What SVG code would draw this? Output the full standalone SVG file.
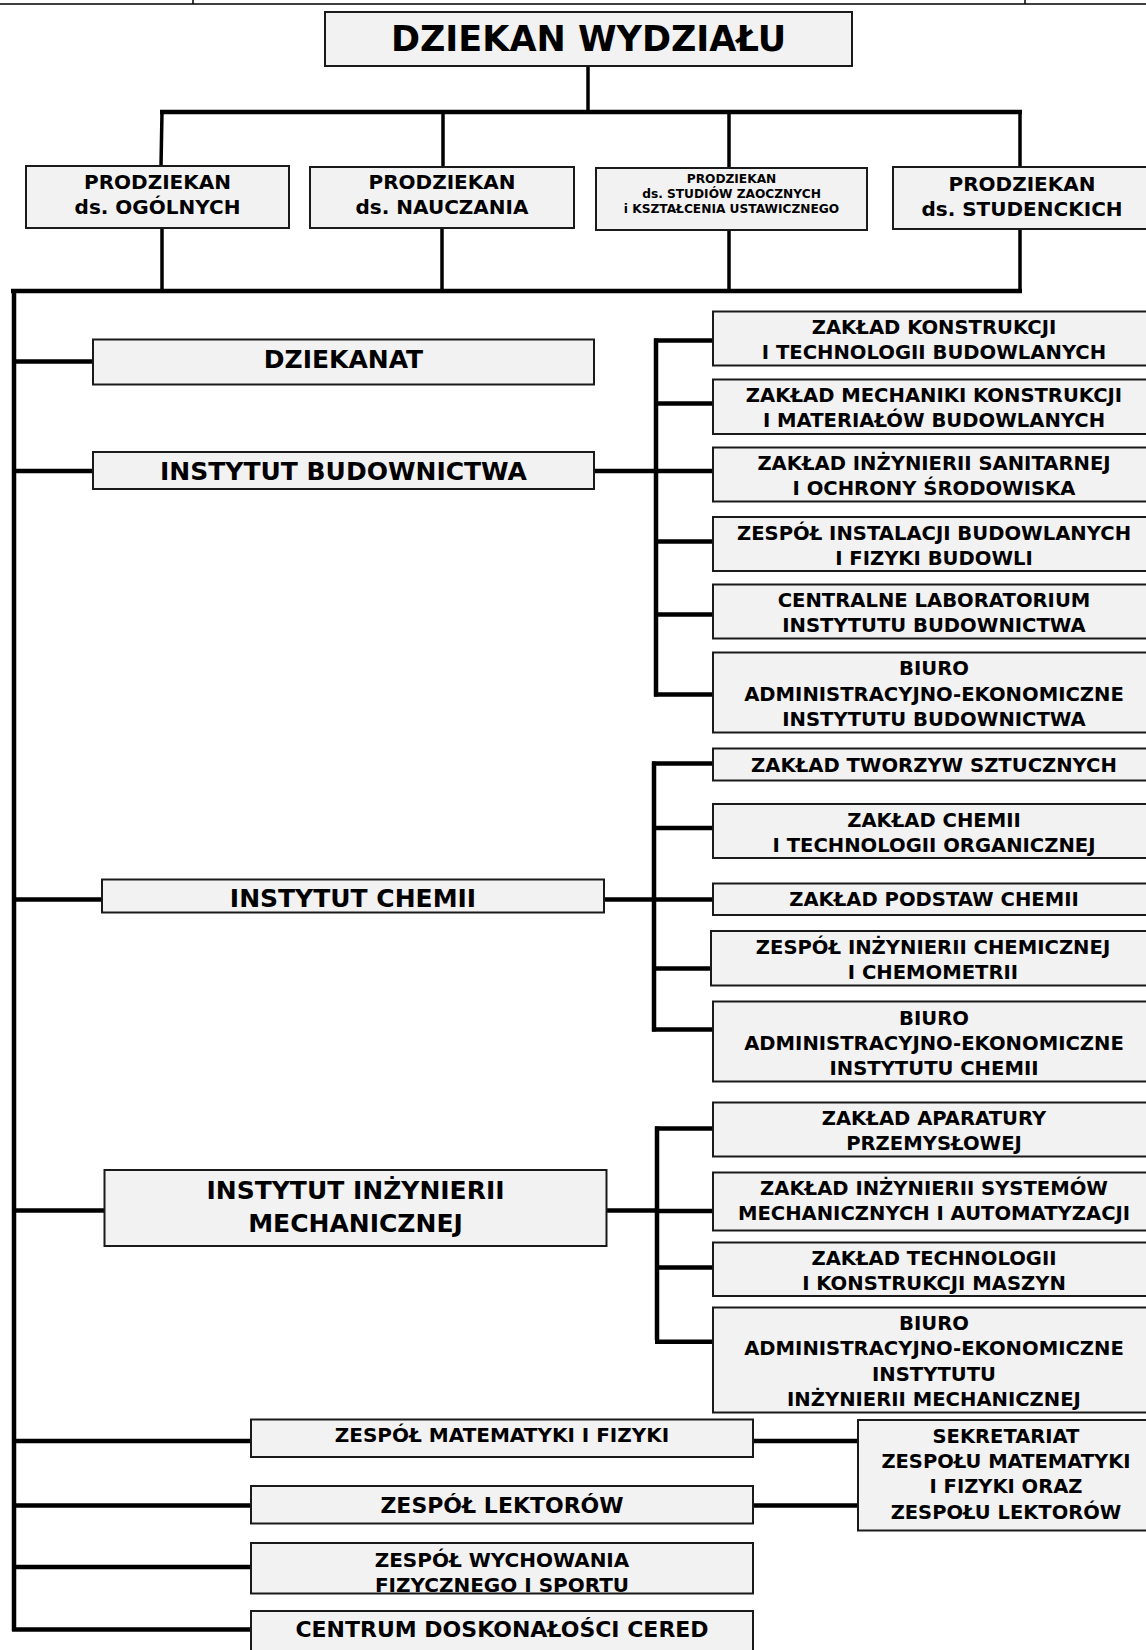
<svg xmlns="http://www.w3.org/2000/svg" width="1146" height="1650" viewBox="0 0 1146 1650">
<style>
.box{fill:#f2f2f2;stroke:#1a1a1a;stroke-width:2}
.t{font-family:"DejaVu Sans","Verdana","Liberation Sans",sans-serif;font-weight:bold;text-anchor:middle;fill:#000}
.f34{font-size:35px}
.f24{font-size:25px}
.f22{font-size:22px}
.f20{font-size:20px}
.f19{font-size:20px}
.f18{font-size:19.6px}
.fs{font-size:19.5px}
.f12{font-size:12.2px}
.ln{stroke:#000;stroke-width:4.5;fill:none}
.lm{stroke:#000;stroke-width:3.5;fill:none}
.bd{stroke:#000;stroke-width:1.5;fill:none}
</style>
<g id="page-border">
<line class="bd" x1="0" y1="4" x2="1146" y2="4"/>
<line class="bd" x1="193" y1="0" x2="193" y2="4" stroke-width="1.2"/>
<line class="bd" x1="1025" y1="0" x2="1025" y2="4" stroke-width="1.2"/>
</g>
<g id="connectors">
<line class="lm" x1="588" y1="66" x2="588" y2="112"/>
<line class="ln" x1="160" y1="112" x2="1022" y2="112"/>
<line class="lm" x1="162" y1="112" x2="161" y2="166"/>
<line class="lm" x1="443" y1="112" x2="443" y2="167"/>
<line class="lm" x1="729" y1="112" x2="729" y2="168"/>
<line class="lm" x1="1020" y1="112" x2="1020" y2="167"/>
<line class="lm" x1="162" y1="228" x2="162" y2="291"/>
<line class="lm" x1="442" y1="228" x2="442" y2="291"/>
<line class="lm" x1="729" y1="230" x2="729" y2="291"/>
<line class="lm" x1="1020" y1="229" x2="1020" y2="291"/>
<line class="ln" x1="11" y1="291" x2="1022" y2="291"/>
<line class="ln" x1="14" y1="289" x2="14" y2="1631"/>
<line class="ln" x1="12" y1="361.5" x2="93" y2="361.5"/>
<line class="ln" x1="12" y1="471" x2="93" y2="471"/>
<line class="ln" x1="594" y1="471" x2="656" y2="471"/>
<line class="ln" x1="656" y1="338.5" x2="656" y2="696.5"/>
<line class="ln" x1="654" y1="340.5" x2="713" y2="340.5"/>
<line class="ln" x1="656" y1="403.5" x2="713" y2="403.5"/>
<line class="ln" x1="656" y1="471" x2="713" y2="471"/>
<line class="ln" x1="656" y1="541.5" x2="713" y2="541.5"/>
<line class="ln" x1="656" y1="614.5" x2="713" y2="614.5"/>
<line class="ln" x1="654" y1="694.5" x2="713" y2="694.5"/>
<line class="ln" x1="12" y1="899.5" x2="102" y2="899.5"/>
<line class="ln" x1="604" y1="899.5" x2="654" y2="899.5"/>
<line class="ln" x1="654" y1="761.5" x2="654" y2="1031.5"/>
<line class="ln" x1="652" y1="763.5" x2="713" y2="763.5"/>
<line class="ln" x1="654" y1="828" x2="713" y2="828"/>
<line class="ln" x1="654" y1="899.5" x2="713" y2="899.5"/>
<line class="ln" x1="654" y1="968.5" x2="711" y2="968.5"/>
<line class="ln" x1="652" y1="1029.5" x2="713" y2="1029.5"/>
<line class="ln" x1="12" y1="1210.5" x2="104.5" y2="1210.5"/>
<line class="ln" x1="607" y1="1210.5" x2="657" y2="1210.5"/>
<line class="ln" x1="657" y1="1126.5" x2="657" y2="1340"/>
<line class="ln" x1="655" y1="1128.5" x2="713" y2="1128.5"/>
<line class="ln" x1="657" y1="1211" x2="713" y2="1211"/>
<line class="ln" x1="657" y1="1267.5" x2="713" y2="1267.5"/>
<line class="ln" x1="655" y1="1341.7" x2="713" y2="1341.7" stroke="#1b4a2c"/>
<line class="ln" x1="12" y1="1441" x2="251" y2="1441"/>
<line class="ln" x1="753" y1="1441" x2="858" y2="1441"/>
<line class="ln" x1="12" y1="1505.5" x2="251" y2="1505.5"/>
<line class="ln" x1="753" y1="1505.5" x2="858" y2="1505.5"/>
<line class="ln" x1="12" y1="1567" x2="251" y2="1567"/>
<line class="ln" x1="12" y1="1629.5" x2="251" y2="1629.5"/>
</g>
<g id="dziekan">
<rect class="box" x="325" y="12" width="527" height="54"/>
<text class="t f34" x="588.5" y="50.5">DZIEKAN WYDZIAŁU</text>
</g>
<g id="prodziekan-ogolnych">
<rect class="box" x="26" y="166" width="263" height="62"/>
<text class="t f19" x="157.5" y="188.5">PRODZIEKAN</text>
<text class="t f19" x="157.5" y="213.5">ds. OGÓLNYCH</text>
</g>
<g id="prodziekan-nauczania">
<rect class="box" x="310" y="167" width="264" height="61"/>
<text class="t f19" x="442" y="189">PRODZIEKAN</text>
<text class="t f19" x="442" y="214">ds. NAUCZANIA</text>
</g>
<g id="prodziekan-zaocznych">
<rect class="box" x="596" y="168" width="271" height="62"/>
<text class="t f12" x="731.5" y="183.3">PRODZIEKAN</text>
<text class="t f12" x="731.5" y="198">ds. STUDIÓW ZAOCZNYCH</text>
<text class="t f12" x="731.5" y="213">i KSZTAŁCENIA USTAWICZNEGO</text>
</g>
<g id="prodziekan-studenckich">
<rect class="box" x="893" y="167" width="262" height="62"/>
<text class="t f19" x="1022" y="191">PRODZIEKAN</text>
<text class="t f19" x="1022" y="216">ds. STUDENCKICH</text>
</g>
<g id="dziekanat">
<rect class="box" x="93" y="339.5" width="501" height="45"/>
<text class="t f24" x="343.5" y="367.5">DZIEKANAT</text>
</g>
<g id="instytut-budownictwa">
<rect class="box" x="93" y="452" width="501" height="37"/>
<text class="t f24" x="343.5" y="479.5">INSTYTUT BUDOWNICTWA</text>
</g>
<g id="zaklad-konstrukcji">
<rect class="box" x="713" y="311.5" width="442" height="54"/>
<text class="t f18" x="934" y="333.5">ZAKŁAD KONSTRUKCJI</text>
<text class="t f18" x="934" y="358.8">I TECHNOLOGII BUDOWLANYCH</text>
</g>
<g id="zaklad-mechaniki">
<rect class="box" x="713" y="379.5" width="442" height="54.5"/>
<text class="t f18" x="934" y="401.5">ZAKŁAD MECHANIKI KONSTRUKCJI</text>
<text class="t f18" x="934" y="426.7">I MATERIAŁÓW BUDOWLANYCH</text>
</g>
<g id="zaklad-sanitarnej">
<rect class="box" x="713" y="447.5" width="442" height="54"/>
<text class="t f18" x="934" y="469.5">ZAKŁAD INŻYNIERII SANITARNEJ</text>
<text class="t f18" x="934" y="494.8">I OCHRONY ŚRODOWISKA</text>
</g>
<g id="zespol-instalacji">
<rect class="box" x="713" y="517" width="442" height="54"/>
<text class="t f18" x="934" y="539.5">ZESPÓŁ INSTALACJI BUDOWLANYCH</text>
<text class="t f18" x="934" y="564.8">I FIZYKI BUDOWLI</text>
</g>
<g id="centralne-laboratorium">
<rect class="box" x="713" y="584.5" width="442" height="54"/>
<text class="t f18" x="934" y="606.5">CENTRALNE LABORATORIUM</text>
<text class="t f18" x="934" y="631.8">INSTYTUTU BUDOWNICTWA</text>
</g>
<g id="biuro-budownictwa">
<rect class="box" x="713" y="652.5" width="442" height="80"/>
<text class="t f18" x="934" y="675">BIURO</text>
<text class="t f18" x="934" y="700.5">ADMINISTRACYJNO-EKONOMICZNE</text>
<text class="t f18" x="934" y="726">INSTYTUTU BUDOWNICTWA</text>
</g>
<g id="instytut-chemii">
<rect class="box" x="102" y="879.5" width="502" height="33"/>
<text class="t f24" x="353" y="907">INSTYTUT CHEMII</text>
</g>
<g id="zaklad-tworzyw">
<rect class="box" x="713" y="748.5" width="442" height="32"/>
<text class="t f18" x="934" y="771.5">ZAKŁAD TWORZYW SZTUCZNYCH</text>
</g>
<g id="zaklad-chemii">
<rect class="box" x="713" y="804" width="442" height="54"/>
<text class="t f18" x="934" y="826.8">ZAKŁAD CHEMII</text>
<text class="t f18" x="934" y="852">I TECHNOLOGII ORGANICZNEJ</text>
</g>
<g id="zaklad-podstaw-chemii">
<rect class="box" x="713" y="883.5" width="442" height="31.5"/>
<text class="t f18" x="934" y="906">ZAKŁAD PODSTAW CHEMII</text>
</g>
<g id="zespol-inzynierii-chemicznej">
<rect class="box" x="711" y="931" width="444" height="54.5"/>
<text class="t f18" x="933" y="954">ZESPÓŁ INŻYNIERII CHEMICZNEJ</text>
<text class="t f18" x="933" y="979.3">I CHEMOMETRII</text>
</g>
<g id="biuro-chemii">
<rect class="box" x="713" y="1001.5" width="442" height="80"/>
<text class="t f18" x="934" y="1024.5">BIURO</text>
<text class="t f18" x="934" y="1049.8">ADMINISTRACYJNO-EKONOMICZNE</text>
<text class="t f18" x="934" y="1075">INSTYTUTU CHEMII</text>
</g>
<g id="instytut-inzynierii-mechanicznej">
<rect class="box" x="104.5" y="1170" width="502" height="76"/>
<text class="t f24" x="355.5" y="1198.5">INSTYTUT INŻYNIERII</text>
<text class="t f24" x="355.5" y="1232">MECHANICZNEJ</text>
</g>
<g id="zaklad-aparatury">
<rect class="box" x="713" y="1102.5" width="442" height="54"/>
<text class="t f18" x="934" y="1124.5">ZAKŁAD APARATURY</text>
<text class="t f18" x="934" y="1150">PRZEMYSŁOWEJ</text>
</g>
<g id="zaklad-systemow">
<rect class="box" x="713" y="1172.5" width="442" height="58"/>
<text class="t f18" x="934" y="1194.5">ZAKŁAD INŻYNIERII SYSTEMÓW</text>
<text class="t f18" x="934" y="1219.5">MECHANICZNYCH I AUTOMATYZACJI</text>
</g>
<g id="zaklad-technologii-maszyn">
<rect class="box" x="713" y="1242.5" width="442" height="53.5"/>
<text class="t f18" x="934" y="1265">ZAKŁAD TECHNOLOGII</text>
<text class="t f18" x="934" y="1290">I KONSTRUKCJI MASZYN</text>
</g>
<g id="biuro-mechanicznej">
<rect class="box" x="713" y="1307.5" width="442" height="105"/>
<text class="t f18" x="934" y="1330">BIURO</text>
<text class="t f18" x="934" y="1355">ADMINISTRACYJNO-EKONOMICZNE</text>
<text class="t f18" x="934" y="1381">INSTYTUTU</text>
<text class="t f18" x="934" y="1405.7">INŻYNIERII MECHANICZNEJ</text>
</g>
<g id="zespol-matematyki">
<rect class="box" x="251" y="1419.5" width="502" height="37.5"/>
<text class="t f20" x="502" y="1441.5">ZESPÓŁ MATEMATYKI I FIZYKI</text>
</g>
<g id="zespol-lektorow">
<rect class="box" x="251" y="1486" width="502" height="37.5"/>
<text class="t f22" x="502" y="1513">ZESPÓŁ LEKTORÓW</text>
</g>
<g id="zespol-wychowania">
<rect class="box" x="251" y="1543" width="502" height="50.5"/>
<text class="t f20" x="502" y="1566.5">ZESPÓŁ WYCHOWANIA</text>
<text class="t f20" x="502" y="1591.5">FIZYCZNEGO I SPORTU</text>
</g>
<g id="centrum-cered">
<rect class="box" x="251" y="1611" width="502" height="50"/>
<text class="t f22" x="502" y="1636.5">CENTRUM DOSKONAŁOŚCI CERED</text>
</g>
<g id="sekretariat">
<rect class="box" x="858" y="1420" width="297" height="110.5"/>
<text class="t fs" x="1006" y="1443.3">SEKRETARIAT</text>
<text class="t fs" x="1006" y="1468.3">ZESPOŁU MATEMATYKI</text>
<text class="t fs" x="1006" y="1493.3">I FIZYKI ORAZ</text>
<text class="t fs" x="1006" y="1519">ZESPOŁU LEKTORÓW</text>
</g>
</svg>
